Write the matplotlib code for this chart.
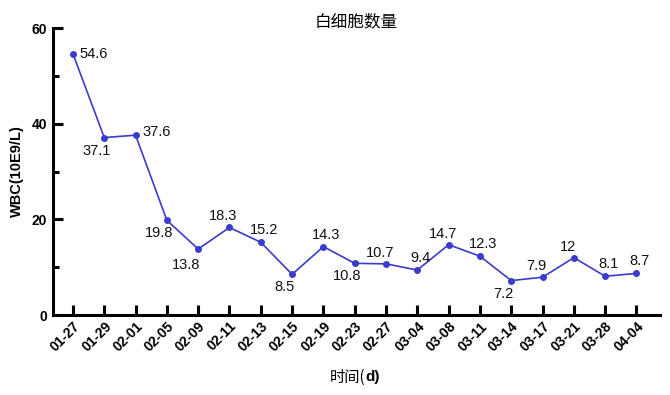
import matplotlib
matplotlib.use("Agg")
import matplotlib.pyplot as plt
from matplotlib.ticker import MultipleLocator

dates = ["01-27", "01-29", "02-01", "02-05", "02-09", "02-11", "02-13", "02-15",
         "02-19", "02-23", "02-27", "03-04", "03-08", "03-11", "03-14", "03-17",
         "03-21", "03-28", "04-04"]
wbc = [54.6, 37.1, 37.6, 19.8, 13.8, 18.3, 15.2, 8.5, 14.3, 10.8, 10.7, 9.4,
       14.7, 12.3, 7.2, 7.9, 12, 8.1, 8.7]
labels = ["54.6", "37.1", "37.6", "19.8", "13.8", "18.3", "15.2", "8.5", "14.3",
          "10.8", "10.7", "9.4", "14.7", "12.3", "7.2", "7.9", "12", "8.1", "8.7"]

# decalages des etiquettes (pixels) : droite, dessous-gauche, dessus...
R, BL, B, A, AR = (21, 0), (-8, -13), (-12, -16), (-6, 11), (3, 12)
offsets = [R, BL, (21, 3), BL, B, A, AR, BL, AR, BL, A, AR, A, AR, BL, A, A, AR, AR]

BLEU = "#3b3bcc"
CJK = ["Noto Sans CJK SC", "DejaVu Sans"]

fig = plt.figure(figsize=(6.7, 3.95), dpi=100)
ax = fig.add_axes([0.079, 0.2025, 0.906, 0.7265])

x = list(range(len(dates)))
ax.plot(x, wbc, color=BLEU, linewidth=1.2, marker="o", markersize=4)
for xi, v, t, (dx, dy) in zip(x, wbc, labels, offsets):
    ax.annotate(t, (xi, v), xytext=(dx, dy), textcoords="offset pixels",
                ha="center", va="center", fontsize=10.5, family="Liberation Sans",
                color="#111111")

ax.set_xlim(-0.64, 18.75)
ax.set_ylim(0, 60)
ax.set_xticks(x)
ax.set_xticklabels(dates, rotation=45, ha="right", rotation_mode="anchor",
                   fontsize=10, fontweight="bold", family="Liberation Sans")
ax.yaxis.set_major_locator(MultipleLocator(20))
ax.yaxis.set_minor_locator(MultipleLocator(10))
for lab in ax.get_yticklabels():
    lab.set_fontweight("bold"); lab.set_family("Liberation Sans"); lab.set_fontsize(10)

for s in ("top", "right"):
    ax.spines[s].set_visible(False)
for s in ("left", "bottom"):
    ax.spines[s].set_linewidth(2.2)
ax.tick_params(axis="both", which="major", direction="in", length=7, width=2.2, pad=4)
ax.tick_params(axis="y", which="minor", direction="in", length=4, width=2.2)
ax.tick_params(axis="x", pad=3)

ax.set_ylabel("WBC(10E9/L)", fontsize=10.5, fontweight="bold", family="Liberation Sans",
              labelpad=6)
fig.text(0.531, 0.945, "白细胞数量", ha="center", va="center", fontsize=12, family=CJK)
fig.text(0.545, 0.045, "时间(", ha="right", va="center", fontsize=11, family=CJK)
fig.text(0.545, 0.045, "d)", ha="left", va="center", fontsize=11, fontweight="bold",
         family="Liberation Sans")

fig.savefig("out.png", dpi=100, facecolor="white")
